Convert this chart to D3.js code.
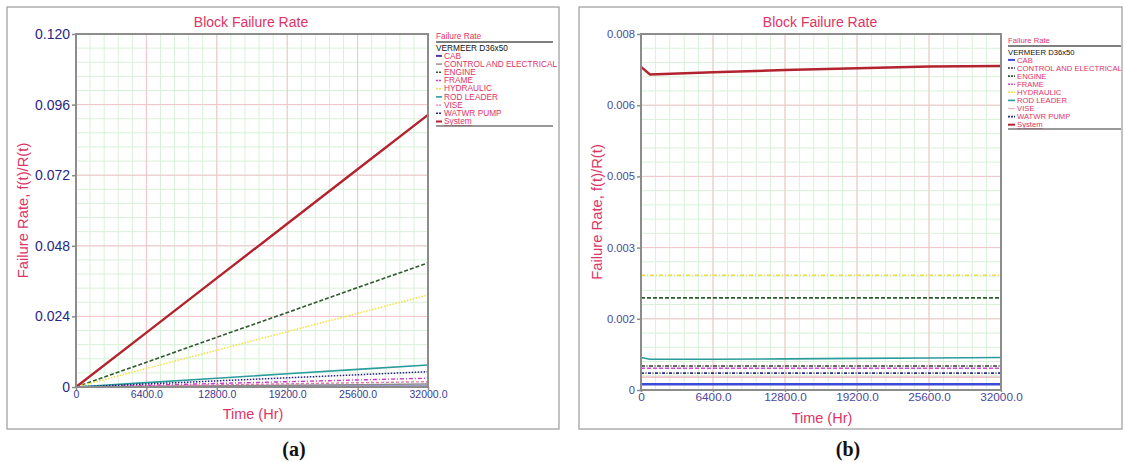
<!DOCTYPE html>
<html>
<head>
<meta charset="utf-8">
<script src="https://cdn.jsdelivr.net/npm/d3@7"></script>
<style>
  html, body { margin: 0; padding: 0; background: #ffffff; }
  svg { display: block; font-family: "Liberation Sans", Arial, sans-serif; }
</style>
</head>
<body>
<svg id="chart" width="1125" height="462"></svg>
<script>
// ---- data ---------------------------------------------------------------
const seriesNames = ["CAB", "CONTROL AND ELECTRICAL", "ENGINE", "FRAME", "HYDRAULIC",
                     "ROD LEADER", "VISE", "WATWR PUMP", "System"];

const xTicks = [0, 6400, 12800, 19200, 25600, 32000];
const xTickLabels = ["0", "6400.0", "12800.0", "19200.0", "25600.0", "32000.0"];

// (a) failure rate rising with operating time
const timesA = [0, 6400, 12800, 19200, 25600, 32000];
const aCab       = [0, 0.00003, 0.00007, 0.00010, 0.00014, 0.00017];
const aControl   = [0, 0.0002, 0.0004, 0.0006, 0.0008, 0.00102];
const aEngine    = [0, 0.0084, 0.0169, 0.0253, 0.0338, 0.0422];
const aFrame     = [0, 0.0006, 0.0012, 0.0018, 0.0024, 0.0030];
const aHydraulic = [0, 0.0063, 0.0125, 0.0188, 0.0250, 0.0313];
const aRodLeader = [0, 0.0015, 0.0030, 0.0045, 0.0060, 0.0075];
const aVise      = [0, 0.00036, 0.00072, 0.00108, 0.00144, 0.0018];
const aWatwrPump = [0, 0.00104, 0.00208, 0.00312, 0.00416, 0.0052];
const aSystem    = [0, 0.0185, 0.0370, 0.0555, 0.0740, 0.0925];
const yTicksA = [0, 0.024, 0.048, 0.072, 0.096, 0.120];
const yTickLabelsA = ["0", "0.024", "0.048", "0.072", "0.096", "0.120"];

// (b) nearly constant failure rate
const timesB = [0, 800, 6400, 12800, 19200, 25600, 32000];
const bCab       = [0.00013, 0.00013, 0.00013, 0.00013, 0.00013, 0.00013, 0.00013];
const bControl   = [0.00054, 0.00054, 0.00054, 0.00054, 0.00054, 0.00054, 0.00054];
const bEngine    = [0.00207, 0.00207, 0.00207, 0.00207, 0.00207, 0.00207, 0.00207];
const bFrame     = [0.00049, 0.00049, 0.00049, 0.00049, 0.00049, 0.00049, 0.00049];
const bHydraulic = [0.00258, 0.00258, 0.00258, 0.00258, 0.00258, 0.00258, 0.00258];
const bRodLeader = [0.00073, 0.00069, 0.00069, 0.00070, 0.00071, 0.00072, 0.00073];
const bVise      = [0.00029, 0.00029, 0.00029, 0.00029, 0.00029, 0.00029, 0.00029];
const bWatwrPump = [0.00038, 0.00038, 0.00038, 0.00038, 0.00038, 0.00038, 0.00038];
const bSystem    = [0.00726, 0.00709, 0.00714, 0.00719, 0.00723, 0.00727, 0.00728];
const yTicksB = [0, 0.0016, 0.0032, 0.0048, 0.0064, 0.0080];
const yTickLabelsB = ["0", "0.002", "0.003", "0.005", "0.006", "0.008"];

// ---- styles ---------------------------------------------------------------
const stylesA = [
  { color: "#4a3aa8", width: 2.2, dash: null },
  { color: "#8a8a8a", width: 1.4, dash: null },
  { color: "#2f5a2f", width: 1.6, dash: "4,2" },
  { color: "#c83ac8", width: 1.4, dash: "4,2,1,2" },
  { color: "#f2e34a", width: 1.6, dash: "1.5,1.5" },
  { color: "#2a9c9c", width: 1.6, dash: null },
  { color: "#e27aa6", width: 1.4, dash: "3,2" },
  { color: "#23237a", width: 1.5, dash: "1.5,1.5" },
  { color: "#b3232f", width: 2.4, dash: null }
];
const stylesB = [
  { color: "#3d4ad8", width: 2.6, dash: null },
  { color: "#3a3a3a", width: 1.6, dash: "4,1.5,1,1.5" },
  { color: "#2f5a2f", width: 1.6, dash: "4,2" },
  { color: "#d24ad2", width: 1.6, dash: "4,2" },
  { color: "#efdc40", width: 1.6, dash: "4,2,1,2" },
  { color: "#2a9c9c", width: 1.6, dash: null },
  { color: "#e8b0b8", width: 1.2, dash: null },
  { color: "#30307e", width: 1.6, dash: "3,1.5,1,1.5" },
  { color: "#b3232f", width: 2.4, dash: null }
];

const titleColor = "#dd3466";
const sansFont = "'Liberation Sans', Arial, sans-serif";
const serifFont = "'Liberation Serif', 'Times New Roman', serif";
const svg = d3.select("#chart");

function drawPanel(cfg) {
  const g = svg.append("g");

  // panel frame
  g.append("rect")
    .attr("x", cfg.frame[0]).attr("y", cfg.frame[1])
    .attr("width", cfg.frame[2] - cfg.frame[0]).attr("height", cfg.frame[3] - cfg.frame[1])
    .attr("fill", "#ffffff").attr("stroke", "#9a9a9a").attr("stroke-width", 1.2);

  const x = d3.scaleLinear().domain([0, 32000]).range([cfg.x0, cfg.x1]);
  const y = d3.scaleLinear().domain([0, cfg.yTicks[cfg.yTicks.length - 1]]).range([cfg.y1, cfg.y0]);

  // minor grid (5 subdivisions per major step), then major grid
  const xStep = xTicks[1] - xTicks[0];
  const yStep = cfg.yTicks[1] - cfg.yTicks[0];
  const xMinor = d3.range(0, 32000 + 1e-6, xStep / 5);
  const yMinor = d3.range(0, y.domain()[1] + 1e-9, yStep / 5);
  const grid = g.append("g");
  grid.selectAll("line.vmin").data(xMinor).enter().append("line")
    .attr("x1", d => x(d)).attr("x2", d => x(d)).attr("y1", cfg.y0).attr("y2", cfg.y1)
    .attr("stroke", "#d8f1d8").attr("stroke-width", 1);
  grid.selectAll("line.hmin").data(yMinor).enter().append("line")
    .attr("y1", d => y(d)).attr("y2", d => y(d)).attr("x1", cfg.x0).attr("x2", cfg.x1)
    .attr("stroke", "#d8f1d8").attr("stroke-width", 1);
  grid.selectAll("line.vmaj").data(xTicks).enter().append("line")
    .attr("x1", d => x(d)).attr("x2", d => x(d)).attr("y1", cfg.y0).attr("y2", cfg.y1)
    .attr("stroke", "#f3c3cb").attr("stroke-width", 1);
  grid.selectAll("line.hmaj").data(cfg.yTicks).enter().append("line")
    .attr("y1", d => y(d)).attr("y2", d => y(d)).attr("x1", cfg.x0).attr("x2", cfg.x1)
    .attr("stroke", "#f3c3cb").attr("stroke-width", 1);

  // series
  const line = d3.line().x(d => x(d[0])).y(d => y(d[1]));
  cfg.series.forEach((vals, i) => {
    const st = cfg.styles[i];
    const pts = cfg.times.map((t, k) => [t, vals[k]]);
    g.append("path").datum(pts)
      .attr("d", line)
      .attr("fill", "none")
      .attr("stroke", st.color)
      .attr("stroke-width", st.width)
      .attr("stroke-dasharray", st.dash);
  });

  // plot border
  g.append("rect")
    .attr("x", cfg.x0).attr("y", cfg.y0)
    .attr("width", cfg.x1 - cfg.x0).attr("height", cfg.y1 - cfg.y0)
    .attr("fill", "none").attr("stroke", "#8c8c8c").attr("stroke-width", 2);

  // axes
  const yAxis = d3.axisLeft(y).tickValues(cfg.yTicks)
    .tickFormat((d, i) => cfg.yTickLabels[i]).tickSize(4).tickPadding(2);
  const ya = g.append("g").attr("transform", `translate(${cfg.x0},0)`).call(yAxis);
  ya.select(".domain").remove();
  ya.selectAll("line").attr("stroke", "#8c8c8c").attr("stroke-width", 1.5);
  ya.selectAll("text").attr("fill", cfg.yTickColor)
    .style("font-size", cfg.yTickSize + "px").style("font-family", sansFont);

  const xAxis = d3.axisBottom(x).tickValues(xTicks)
    .tickFormat((d, i) => xTickLabels[i]).tickSize(cfg.xTickLen).tickPadding(1);
  const xa = g.append("g").attr("transform", `translate(0,${cfg.y1})`).call(xAxis);
  xa.select(".domain").remove();
  xa.selectAll("line").attr("stroke", "#8c8c8c").attr("stroke-width", 1.5);
  xa.selectAll("text").attr("fill", cfg.xTickColor)
    .style("font-size", cfg.xTickSize + "px").style("font-family", sansFont);

  // titles
  g.append("text").attr("x", (cfg.x0 + cfg.x1) / 2 - 1).attr("y", cfg.titleY)
    .attr("text-anchor", "middle").attr("fill", titleColor).style("font-size", "14px")
    .text("Block Failure Rate");
  g.append("text").attr("x", (cfg.x0 + cfg.x1) / 2 + 1).attr("y", cfg.xTitleY)
    .attr("text-anchor", "middle").attr("fill", titleColor).style("font-size", "14.5px")
    .text("Time (Hr)");
  g.append("text")
    .attr("transform", `translate(${cfg.yTitleX},${(cfg.y0 + cfg.y1) / 2}) rotate(-90)`)
    .attr("text-anchor", "middle").attr("fill", titleColor).style("font-size", "14.8px")
    .text("Failure Rate, f(t)/R(t)");

  // legend
  const L = cfg.legend;
  const fs = L.fontSize + "px";
  const lg = g.append("g");
  lg.append("text").attr("x", L.x).attr("y", L.headY).style("font-size", fs)
    .attr("fill", titleColor).text("Failure Rate");
  lg.append("line").attr("x1", L.x).attr("x2", L.x2).attr("y1", L.lineY).attr("y2", L.lineY)
    .attr("stroke", "#555555").attr("stroke-width", 1.4);
  lg.append("text").attr("x", L.x).attr("y", L.subY).style("font-size", fs)
    .attr("fill", "#111111").text("VERMEER D36x50");
  seriesNames.forEach((name, i) => {
    const yy = L.itemY + i * L.step;
    const st = cfg.styles[i];
    lg.append("line").attr("x1", L.x).attr("x2", L.x + L.sw).attr("y1", yy - 2.6).attr("y2", yy - 2.6)
      .attr("stroke", st.color).attr("stroke-width", Math.min(st.width, 2))
      .attr("stroke-dasharray", st.dash ? "2,1" : null);
    lg.append("text").attr("x", L.x + L.sw + 2).attr("y", yy).style("font-size", fs)
      .attr("fill", titleColor)
      .attr("text-decoration", name === "System" ? "underline" : null)
      .text(name);
  });
  lg.append("line").attr("x1", L.x).attr("x2", L.x2).attr("y1", L.endY).attr("y2", L.endY)
    .attr("stroke", "#777777").attr("stroke-width", 1.4);

  // caption
  svg.append("text").attr("x", cfg.capX).attr("y", 456).attr("text-anchor", "middle")
    .style("font-family", serifFont)
    .style("font-weight", "bold").style("font-size", "20px").attr("fill", "#111111")
    .text(cfg.caption);
}

drawPanel({
  frame: [7, 7, 559, 429],
  x0: 76, x1: 428, y0: 34, y1: 387,
  times: timesA,
  series: [aCab, aControl, aEngine, aFrame, aHydraulic, aRodLeader, aVise, aWatwrPump, aSystem],
  styles: stylesA,
  yTicks: yTicksA, yTickLabels: yTickLabelsA,
  yTickColor: "#27278a", yTickSize: 14,
  xTickColor: "#3a3a90", xTickSize: 10.5, xTickLen: 3,
  titleY: 27, xTitleY: 419, yTitleX: 28,
  legend: { x: 436, x2: 553, headY: 39, lineY: 42, subY: 50.5, itemY: 58.5, step: 8.2, sw: 6, endY: 126, fontSize: 8.3 },
  capX: 294, caption: "(a)"
});

drawPanel({
  frame: [579, 7, 1122, 429],
  x0: 641, x1: 1001, y0: 34, y1: 390,
  times: timesB,
  series: [bCab, bControl, bEngine, bFrame, bHydraulic, bRodLeader, bVise, bWatwrPump, bSystem],
  styles: stylesB,
  yTicks: yTicksB, yTickLabels: yTickLabelsB,
  yTickColor: "#4a4aa0", yTickSize: 11.2,
  xTickColor: "#4a4aa0", xTickSize: 11.8, xTickLen: 2,
  titleY: 27, xTitleY: 423, yTitleX: 602,
  legend: { x: 1008, x2: 1121, headY: 43, lineY: 46, subY: 54.5, itemY: 62.5, step: 8.1, sw: 7, endY: 129, fontSize: 7.7 },
  capX: 848, caption: "(b)"
});
</script>
</body>
</html>
